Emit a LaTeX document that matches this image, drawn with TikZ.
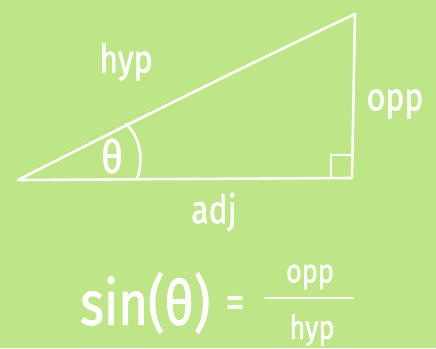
\documentclass[tikz,border=0pt]{standalone}
\usepackage{fontspec}
\setmainfont{Fira Sans}[FakeStretch=0.82, FakeBold=1.3]
\definecolor{bg}{RGB}{190,229,134}
\begin{document}
\begin{tikzpicture}[x=1pt,y=-1pt,
  every node/.style={text=white, inner sep=0pt},
  chalk/.style={draw=white, line width=2.6pt, line cap=round, line join=round},
  lbl/.style={font=\fontsize{39}{42}\selectfont},
  frac/.style={font=\fontsize{33}{36}\selectfont}]
\fill[bg] (0,0) rectangle (436,348);
\useasboundingbox (0,0) rectangle (436,348);
\coordinate (A) at (18,180);
\coordinate (B) at (352,178);
\coordinate (C) at (355,14);
\draw[chalk] (A) .. controls (128,124) and (245,66) .. (C) -- (B) -- cycle;
\coordinate (R1) at (331,178);
\coordinate (R2) at (331,155);
\coordinate (R3) at (352,155);
\draw[chalk, line width=2.2pt] (R1) -- (R2) -- (R3);
\coordinate (T1) at (126,124);
\coordinate (T2) at (137,179);
\draw[chalk] (T1) .. controls (142,138) and (143,163) .. (T2);
\node[font=\fontsize{46}{48}\selectfont] (theta) at (112,156) {θ};
\node[lbl] (hyp) at (126,62) {hyp};
\node[lbl] (opp) at (395,104) {opp};
\node[lbl] (adj) at (214,212) {adj};
\node[anchor=west, font=\fontsize{62}{64}\selectfont] (sin) at (80,303) {sin(θ)};
\node[font=\fontsize{46}{48}\selectfont] (eq) at (235,307) {=};
\coordinate (F1) at (265,298);
\coordinate (F2) at (353,298);
\draw[chalk] (F1) -- (F2);
\node[frac] (num) at (310,277) {opp};
\node[frac] (den) at (312,330) {hyp};
\end{tikzpicture}
\end{document}
